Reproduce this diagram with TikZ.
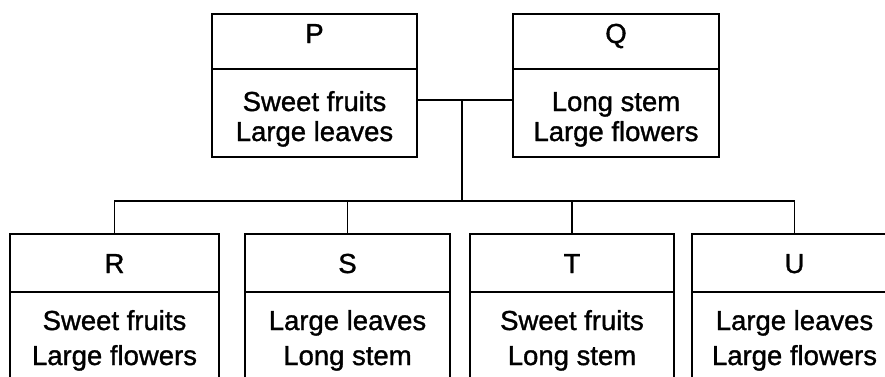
\documentclass[tikz,border=0pt]{standalone}
\usepackage{fontspec}
\setmainfont{Liberation Sans}[FakeBold=1.2]
\begin{document}
\begin{tikzpicture}[x=1pt,y=-1pt,
  box/.style={draw,line width=1.8pt,rectangle,inner sep=0pt},
  txt/.style={anchor=base,inner sep=0pt,font=\fontsize{27.5}{30}\selectfont},
  link/.style={line width=1.8pt}]
\useasboundingbox (0,0) rectangle (885,376);
\clip (0,0) rectangle (885,376);
% top boxes
\node[box,minimum width=205pt,minimum height=143pt] (P) at (314.5,85.5) {};
\node[box,minimum width=206pt,minimum height=143pt] (Q) at (616,85.5) {};
\draw[link] (P.west |- 0,69) -- (P.east |- 0,69);
\draw[link] (Q.west |- 0,69) -- (Q.east |- 0,69);
\node[txt] (Ph) at (314.5,43) {P};
\node[txt] (P1) at (314.5,111) {Sweet fruits};
\node[txt] (P2) at (314.5,141) {Large leaves};
\node[txt] (Qh) at (616,43) {Q};
\node[txt] (Q1) at (616,111) {Long stem};
\node[txt] (Q2) at (616,141) {Large flowers};
% bottom boxes
\node[box,minimum width=209pt,minimum height=186pt] (R) at (114.5,327) {};
\node[box,minimum width=205pt,minimum height=186pt] (S) at (347.5,327) {};
\node[box,minimum width=204pt,minimum height=186pt] (T) at (572,327) {};
\node[box,minimum width=205pt,minimum height=186pt] (U) at (794.5,327) {};
\foreach \b in {R,S,T,U}{\draw[link] (\b.west |- 0,292) -- (\b.east |- 0,292);}
\node[txt] (Rh) at (114.5,273) {R};
\node[txt] (R1) at (114.5,330) {Sweet fruits};
\node[txt] (R2) at (114.5,365) {Large flowers};
\node[txt] (Sh) at (347.5,273) {S};
\node[txt] (S1) at (347.5,330) {Large leaves};
\node[txt] (S2) at (347.5,365) {Long stem};
\node[txt] (Th) at (572,273) {T};
\node[txt] (T1) at (572,330) {Sweet fruits};
\node[txt] (T2) at (572,365) {Long stem};
\node[txt] (Uh) at (794.5,273) {U};
\node[txt] (U1) at (794.5,330) {Large leaves};
\node[txt] (U2) at (794.5,365) {Large flowers};
% connectors
\coordinate (J) at (462,100);
\coordinate (B) at (462,201);
\draw[link] (P.east |- J) -- (Q.west |- J);
\draw[link] (J) -- (B);
\draw[link] (R.north) |- (B) -| (U.north);
\draw[link] (S.north) -- (S.north |- B);
\draw[link] (T.north) -- (T.north |- B);
\end{tikzpicture}
\end{document}
